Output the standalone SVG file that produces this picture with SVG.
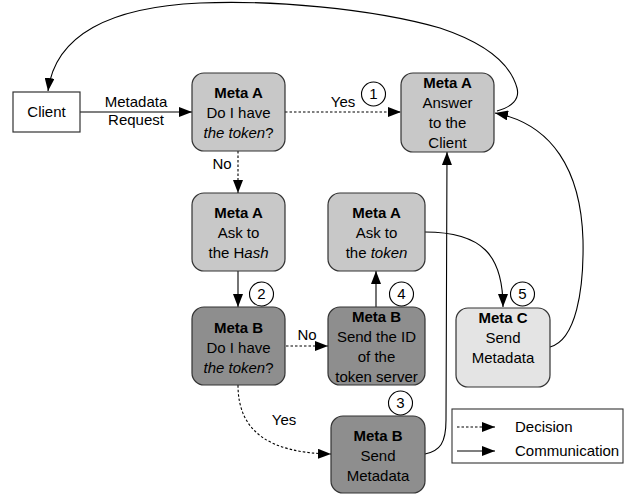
<svg xmlns="http://www.w3.org/2000/svg" width="629" height="497" viewBox="0 0 629 497">
<style>
text{font-family:"Liberation Sans",Arial,sans-serif;font-size:15px;fill:#000;text-anchor:middle}
.b{font-weight:bold}
.i{font-style:italic}
.box{stroke:#333;stroke-width:1.2}
.a{fill:#c8c8c8}
.bb{fill:#8e8e8e}
.c{fill:#e4e4e4}
.ln{fill:none;stroke:#000;stroke-width:1.1}
.d{stroke-dasharray:2.5,2}
.num{fill:#fff;stroke:#000;stroke-width:1.1}
.lg{text-anchor:start}
</style>
<defs>
<marker id="ar" markerUnits="userSpaceOnUse" markerWidth="14" markerHeight="10" refX="13" refY="5" orient="auto">
<path d="M0,0 L13,5 L0,10 Z" fill="#000"/>
</marker>
</defs>
<rect width="629" height="497" fill="#fff"/>
<g id="connectors">
<path class="ln" d="M80,112 L192,112" marker-end="url(#ar)"/>
<path class="ln d" d="M285,112 L401,112" marker-end="url(#ar)"/>
<path class="ln d" d="M238,151 L238,193" marker-end="url(#ar)"/>
<path class="ln" d="M238,271 L238,307" marker-end="url(#ar)"/>
<path class="ln d" d="M286,346 L328,346" marker-end="url(#ar)"/>
<path class="ln" d="M376,307 L376,271" marker-end="url(#ar)"/>
<path class="ln d" d="M238,385 C238,432 270,453 331,454" marker-end="url(#ar)"/>
<path class="ln" d="M425,454 C440,451 446,443 446,420 L447,152" marker-end="url(#ar)"/>
<path class="ln" d="M425,232 C482,232 503,255 503,307" marker-end="url(#ar)"/>
<path class="ln" d="M550,347 C576,340 584,290 583,240 C581,170 552,124 495,113" marker-end="url(#ar)"/>
<path class="ln" d="M497,111 C512,107 520,99 517,88 C510,62 482,42 440,28 C370,8 270,0 200,3 C110,7 55,35 48,91" marker-end="url(#ar)"/>
<text x="136" y="107">Metadata</text>
<text x="136" y="125">Request</text>
<text x="343" y="107">Yes</text>
<text x="222" y="169">No</text>
<text x="307" y="340">No</text>
<text x="284" y="425">Yes</text>
</g>
<g id="client">
<rect x="13" y="92" width="67" height="40" fill="#fff" class="box"/>
<text x="46.5" y="117">Client</text>
</g>
<g id="metaA-have">
<rect x="192" y="73" width="93" height="78" rx="12" class="box a"/>
<text x="238.5" y="98" class="b">Meta A</text>
<text x="238.5" y="118">Do I have</text>
<text x="238.5" y="138"><tspan class="i">the token</tspan>?</text>
</g>
<g id="metaA-answer">
<rect x="401" y="73" width="93" height="79" rx="12" class="box a"/>
<text x="447.5" y="88" class="b">Meta A</text>
<text x="447.5" y="108">Answer</text>
<text x="447.5" y="128">to the</text>
<text x="447.5" y="148">Client</text>
</g>
<g id="metaA-hash">
<rect x="192" y="193" width="93" height="78" rx="12" class="box a"/>
<text x="238.5" y="218" class="b">Meta A</text>
<text x="238.5" y="238">Ask to</text>
<text x="238.5" y="258">the H<tspan class="i">ash</tspan></text>
</g>
<g id="metaA-token">
<rect x="328" y="193" width="97" height="78" rx="12" class="box a"/>
<text x="376.5" y="218" class="b">Meta A</text>
<text x="376.5" y="238">Ask to</text>
<text x="376.5" y="258">the <tspan class="i">token</tspan></text>
</g>
<g id="metaB-have">
<rect x="192" y="307" width="93" height="78" rx="12" class="box bb"/>
<text x="238.5" y="333" class="b">Meta B</text>
<text x="238.5" y="353">Do I have</text>
<text x="238.5" y="373"><tspan class="i">the token</tspan>?</text>
</g>
<g id="metaB-sendid">
<rect x="328" y="307" width="97" height="78" rx="12" class="box bb"/>
<text x="376.5" y="322" class="b">Meta B</text>
<text x="376.5" y="342">Send the ID</text>
<text x="376.5" y="362">of the</text>
<text x="376.5" y="382">token server</text>
</g>
<g id="metaB-send">
<rect x="331" y="416" width="94" height="77" rx="12" class="box bb"/>
<text x="378" y="441" class="b">Meta B</text>
<text x="378" y="461">Send</text>
<text x="378" y="481">Metadata</text>
</g>
<g id="metaC-send">
<rect x="456" y="308" width="94" height="79" rx="12" class="box c"/>
<text x="503" y="323" class="b">Meta C</text>
<text x="503" y="343">Send</text>
<text x="503" y="363">Metadata</text>
</g>
<g id="steps">
<circle cx="373.5" cy="94" r="12" class="num"/><text x="373.5" y="99">1</text>
<circle cx="261.5" cy="294" r="12" class="num"/><text x="261.5" y="299">2</text>
<circle cx="400.5" cy="403" r="12" class="num"/><text x="400.5" y="408">3</text>
<circle cx="401.5" cy="294" r="12" class="num"/><text x="401.5" y="299">4</text>
<circle cx="522.5" cy="294" r="12" class="num"/><text x="522.5" y="299">5</text>
</g>
<g id="legend">
<rect x="452" y="409" width="171" height="54" fill="#fff" stroke="#333" stroke-width="1.1"/>
<path class="ln d" d="M457,427 L495,427" marker-end="url(#ar)"/>
<path class="ln" d="M457,451 L495,451" marker-end="url(#ar)"/>
<text x="515" y="432" class="lg">Decision</text>
<text x="515" y="456" class="lg">Communication</text>
</g>
</svg>
